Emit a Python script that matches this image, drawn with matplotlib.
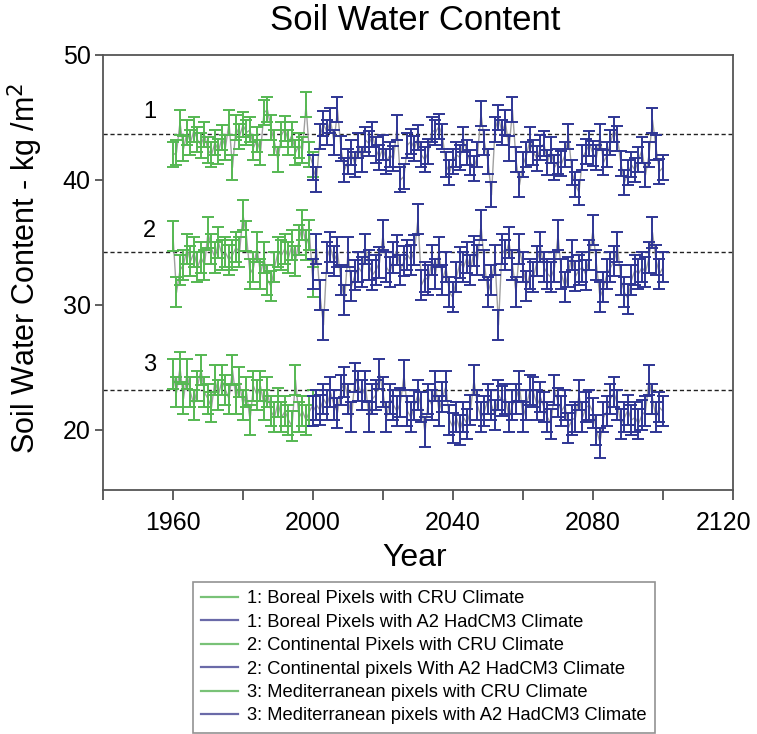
import numpy as np
import matplotlib
matplotlib.use("Agg")
import matplotlib.pyplot as plt
from matplotlib.lines import Line2D
from matplotlib.transforms import ScaledTranslation

plt.rcParams['font.family'] = ['Liberation Sans', 'DejaVu Sans']

# years
cru_years = list(range(1960, 2001))
had_years = list(range(2000, 2101))

# 1: boreal
boreal_cru = [42.0, 42.2, 44.6, 42.5, 43.8, 43.0, 44.0, 43.2, 42.8, 43.6,
              42.4, 42.0, 43.0, 42.3, 43.4, 42.6, 44.6, 41.0, 44.2, 43.5,
              44.4, 43.8, 44.0, 42.6, 43.2, 42.2, 45.4, 45.6, 44.2, 43.0,
              41.6, 43.6, 44.1, 43.0, 43.6, 42.2, 42.8, 42.4, 46.0, 42.0,
              41.2]
boreal_had = [41.0, 40.0, 43.5, 44.5, 43.8, 44.8, 43.0, 45.6, 42.5, 40.8,
              41.5, 42.2, 41.2, 42.8, 41.6, 43.2, 42.9, 43.6, 42.4, 41.8,
              42.6, 41.5, 42.0, 41.7, 44.2, 40.0, 40.3, 42.8, 43.1, 42.5,
              43.4, 42.0, 41.6, 42.3, 44.0, 43.8, 44.3, 43.5, 41.2, 40.6,
              41.5, 42.0, 41.8, 43.2, 42.2, 41.4, 40.9, 42.0, 45.3, 43.0,
              41.5, 38.8, 44.0, 45.0, 43.8, 44.6, 42.5, 45.6, 41.6, 39.6,
              41.2, 42.0, 43.2, 42.2, 41.7, 42.6, 42.9, 41.4, 42.4, 41.0,
              41.5, 41.3, 42.0, 43.5, 40.6, 39.6, 39.0, 41.8, 42.3, 42.9,
              42.1, 41.8, 43.5, 41.4, 42.0, 43.0, 44.0, 43.3, 41.3, 39.8,
              40.6, 41.2, 40.8, 41.6, 42.4, 40.4, 42.0, 44.8, 42.6, 40.7,
              41.0]

# 2: continental
cont_cru = [35.5, 31.0, 32.8, 33.2, 34.5, 33.5, 34.2, 33.0, 33.8, 33.2,
            35.8, 34.5, 33.8, 35.0, 34.0, 34.2, 33.6, 34.0, 34.6, 34.2,
            37.2, 35.5, 32.5, 33.0, 34.6, 32.5, 33.8, 32.0, 31.5, 33.0,
            34.2, 34.0, 34.5, 33.8, 34.8, 33.5, 35.2, 36.4, 34.8, 35.6,
            31.8]
cont_had = [32.5, 34.5, 30.8, 28.4, 33.8, 34.6, 33.5, 34.2, 32.0, 30.4,
            34.2, 31.5, 32.4, 33.0, 32.6, 34.5, 33.2, 32.4, 32.8, 33.4,
            35.6, 33.0, 32.6, 33.8, 34.4, 32.8, 33.5, 34.0, 33.6, 34.4,
            36.9, 31.6, 32.2, 32.0, 33.6, 32.5, 34.2, 32.0, 33.0, 31.0,
            30.6, 32.2, 33.4, 33.0, 33.8, 32.8, 34.3, 33.6, 36.4, 33.2,
            31.0, 32.0, 33.6, 28.4, 34.5, 34.0, 35.0, 33.2, 31.0, 34.5,
            33.0, 31.5, 32.5, 32.2, 33.5, 34.6, 33.0, 32.5, 32.2, 33.0,
            35.6, 32.5, 31.4, 32.6, 34.0, 32.3, 32.8, 33.0, 32.4, 34.0,
            36.0, 33.2, 30.6, 31.4, 32.5, 33.0, 33.5, 34.6, 32.0, 31.0,
            30.5, 32.0, 32.8, 32.5, 33.0, 32.6, 33.8, 35.8, 33.6, 32.5,
            33.0]

# 3: mediterranean
med_cru = [24.5, 23.0, 25.0, 22.5, 24.5, 23.0, 22.0, 23.5, 24.8, 23.0,
           22.5, 21.8, 24.0, 22.8, 24.0, 23.2, 22.5, 24.8, 22.5, 23.8,
           22.0, 23.0, 20.8, 23.5, 22.8, 23.5, 22.0, 23.0, 21.5, 21.0,
           22.2, 21.0, 21.5, 20.8, 20.3, 24.0, 21.0, 21.5, 20.8, 21.5,
           22.0]
med_had = [21.5, 22.0, 21.6, 22.5, 22.0, 23.0, 22.0, 21.4, 23.2, 23.8,
           22.5, 21.0, 24.2, 23.5, 22.8, 23.5, 21.0, 22.5, 22.8, 24.5,
           23.0, 21.0, 22.5, 22.0, 21.5, 22.2, 24.4, 21.5, 21.0, 22.0,
           22.8, 21.8, 19.8, 22.5, 22.0, 23.5, 21.5, 22.6, 23.5, 20.8,
           20.2, 21.0, 20.0, 21.0, 20.5, 21.6, 24.0, 22.0, 21.0, 21.5,
           22.5, 22.0, 21.2, 22.8, 22.3, 22.5, 21.0, 22.0, 22.5, 23.5,
           21.0, 22.0, 23.2, 23.0, 22.0, 22.6, 21.8, 21.0, 20.5, 23.2,
           22.2, 21.5, 22.0, 20.2, 20.8, 21.0, 22.8, 21.0, 21.8, 22.0,
           21.4, 20.0, 19.0, 21.0, 21.5, 22.5, 23.0, 22.0, 20.5, 21.0,
           21.6, 20.8, 21.0, 20.5, 21.2, 21.5, 24.0, 22.5, 21.0, 21.8,
           21.5]

errs = [1.0, 1.2, 1.2]
ref_levels = [43.7, 34.2, 23.2]
region_labels = ["1", "2", "3"]
label_y = [45.4, 35.9, 25.2]

legend_labels = ["1: Boreal Pixels with CRU Climate",
                 "1: Boreal Pixels with A2 HadCM3 Climate",
                 "2: Continental Pixels with CRU Climate",
                 "2: Continental pixels With A2 HadCM3 Climate",
                 "3: Mediterranean pixels with CRU Climate",
                 "3: Mediterranean pixels with A2 HadCM3 Climate"]

green = "#55b852"
blue = "#2e3594"
grey = "#a0a0a0"

fig = plt.figure(figsize=(7.57, 7.34), dpi=100)
ax = fig.add_axes([103/757, 1-490/734, 630/757, 435/734])

series = [(boreal_cru, boreal_had), (cont_cru, cont_had), (med_cru, med_had)]
for i, (cru, had) in enumerate(series):
    ax.axhline(ref_levels[i], color="#222222", ls=(0, (3, 2)), lw=1.0, zorder=1)
    ax.plot(cru_years, cru, color=grey, lw=1.0, zorder=2)
    ax.plot(had_years, had, color=grey, lw=1.0, zorder=2)
    ax.errorbar(cru_years, cru, yerr=errs[i], fmt='none', ecolor=green,
                elinewidth=1.4, capsize=4, capthick=1.4, zorder=3)
    ax.errorbar(had_years, had, yerr=errs[i], fmt='none', ecolor=blue,
                elinewidth=1.4, capsize=4, capthick=1.4, zorder=3)
    ax.text(1953.4, label_y[i], region_labels[i], fontsize=17, ha='center', va='center')

ax.set_xlim(1940, 2120)
ax.set_ylim(15.2, 50)
ax.set_xticks([1960, 2000, 2040, 2080, 2120])
ax.set_xticks([1940, 1980, 2020, 2060, 2100], minor=True)
ax.set_yticks([20, 30, 40, 50])
ax.tick_params(axis='x', which='both', direction='out', length=7, width=1.2,
               labelsize=18, pad=8, color="#444444")
ax.tick_params(axis='y', direction='out', length=6, width=1.2, labelsize=18,
               pad=3, color="#444444")
for s in ax.spines.values():
    s.set_color("#555555")
    s.set_linewidth(1.3)

# last x label sits slightly left of its tick so it stays inside the figure
last = ax.get_xticklabels()[-1]
last.set_transform(last.get_transform() + ScaledTranslation(-9/100, 0, fig.dpi_scale_trans))

fig.text(415/757, 1-20/734, "Soil Water Content", fontsize=25, ha='center', va='center')
fig.text(415/757, 1-558/734, "Year", fontsize=23, ha='center', va='center')
fig.text(25/757, 1-268/734, "Soil Water Content - kg /m$^2$", fontsize=22,
         rotation=90, ha='center', va='center')

handles = []
for k in range(6):
    handles.append(Line2D([], [], color=("#79c277" if k % 2 == 0 else "#6a6aa8"), lw=1.6))
leg = fig.legend(handles, legend_labels, loc='upper left',
                 bbox_to_anchor=(193/757, 1-582/734), fontsize=13.2,
                 frameon=True, fancybox=False, edgecolor="#777777",
                 handlelength=2.0, handletextpad=0.5, labelspacing=0.35,
                 borderaxespad=0, borderpad=0.45)
leg.get_frame().set_linewidth(1.2)

fig.savefig("out.png", dpi=100)
